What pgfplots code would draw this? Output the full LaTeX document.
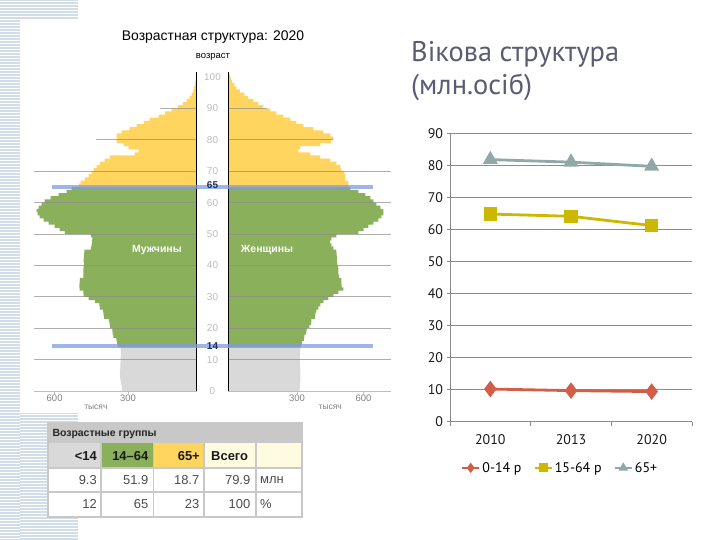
\documentclass[border=0pt]{standalone}
\usepackage{fontspec}
\setmainfont{PT Sans}
\newfontfamily\arial{Liberation Sans}
\usepackage{pgfplots}
\usepackage{pgfplotstable}
\pgfplotsset{compat=1.18}
\definecolor{c1}{HTML}{D25E47}
\definecolor{c2}{HTML}{CDB800}
\definecolor{c3}{HTML}{8FA9A8}
\definecolor{titlec}{HTML}{5B5B73}
\definecolor{pgray}{HTML}{D9D9D9}
\definecolor{pgreen}{HTML}{8AB05C}
\definecolor{pyellow}{HTML}{FFD55F}
\definecolor{pblue}{HTML}{7F9BE0}
\definecolor{stripe}{HTML}{D2DEE7}
\definecolor{lyel}{HTML}{FFFBE0}
\definecolor{hdr}{HTML}{C8C8C8}
\definecolor{gridc}{HTML}{8C8C8C}
\definecolor{lgray}{HTML}{BDBDBD}
\definecolor{navy}{HTML}{1F2F60}

\pgfplotstableread{
age m f
0 326 311
1 328 312
2 330 313
3 332 314
4 334 315
5 335 315
6 334 314
7 333 313
8 333 313
9 332 312
10 332 312
11 331 312
12 331 313
13 332 314
14 345 319
15 347 321
16 350 330
17 364 332
18 367 340
19 368 342
20 378 354
21 380 361
22 383 363
23 404 378
24 406 380
25 408 384
26 422 393
27 425 402
28 444 415
29 472 437
30 493 459
31 495 480
32 511 502
33 512 495
34 511 493
35 510 493
36 494 482
37 495 480
38 494 480
39 493 479
40 492 476
41 493 474
42 492 474
43 491 473
44 490 472
45 462 459
46 459 450
47 456 444
48 455 450
49 462 472
50 575 568
51 598 590
52 620 611
53 646 633
54 668 655
55 686 668
56 694 677
57 699 677
58 690 664
59 677 646
60 664 633
61 638 620
62 603 598
63 568 568
64 546 533
65 515 524
66 507 524
67 488 511
68 472 511
69 459 507
70 450 493
71 437 489
72 422 472
73 402 445
74 379 402
75 271 358
76 253 306
77 297 314
78 319 402
79 349 450
80 349 459
81 349 445
82 328 415
83 293 371
84 262 328
85 231 297
86 205 271
87 166 240
88 138 210
89 109 183
90 82 153
91 60 131
92 44 109
93 31 87
94 22 70
95 15 51
96 11 35
97 8 26
98 6 17
99 4 11
100 4 7
}\pyr

\pgfplotsset{
  pbar/.style={xbar, bar width=1.08, bar shift=0pt, draw=none},
  pyr/.style={scale only axis, width=162.7bp, height=317.1bp,
    xmin=0, xmax=710, ymin=0, ymax=101, axis lines=none, clip=false},
}

\begin{document}
\begin{tikzpicture}
\useasboundingbox (0,0) rectangle (720bp,-540bp);
\fill[white] (0,0) rectangle (720bp,-540bp);
% slide decoration
\fill[stripe] (0,0) rectangle (20bp,-540bp);
\fill[stripe] (0,0) rectangle (78bp,-20bp);
\fill[stripe] (0,-413bp) rectangle (78bp,-540bp);
\foreach \i in {1.5,4.5,...,540} {\draw[white, line width=0.7bp] (0,-\i bp) -- (20bp,-\i bp);}
\foreach \i in {1.5,4.5,...,20} {\draw[white, line width=0.7bp] (20bp,-\i bp) -- (78bp,-\i bp);}
\foreach \i in {414.5,417.5,...,540} {\draw[white, line width=0.7bp] (20bp,-\i bp) -- (78bp,-\i bp);}

% ---------- pyramid: males ----------
\begin{axis}[pyr, at={(196.7bp,-391bp)}, anchor=south east, x dir=reverse]
\addplot[pbar, fill=pgray, restrict y to domain=0:14] table[x=m, y expr=\thisrow{age}+0.5]{\pyr};
\addplot[pbar, fill=pgreen, restrict y to domain=14:65] table[x=m, y expr=\thisrow{age}+0.5]{\pyr};
\addplot[pbar, fill=pyellow, restrict y to domain=65:101] table[x=m, y expr=\thisrow{age}+0.5]{\pyr};
\draw[gridc, opacity=0.7, line width=0.8bp] (axis cs:0,10) -- (axis cs:710,10);
\draw[gridc, opacity=0.7, line width=0.8bp] (axis cs:0,20) -- (axis cs:710,20);
\draw[gridc, opacity=0.7, line width=0.8bp] (axis cs:0,30) -- (axis cs:710,30);
\draw[gridc, opacity=0.7, line width=0.8bp] (axis cs:0,40) -- (axis cs:710,40);
\draw[gridc, opacity=0.7, line width=0.8bp] (axis cs:0,50) -- (axis cs:710,50);
\draw[gridc, opacity=0.7, line width=0.8bp] (axis cs:0,60) -- (axis cs:710,60);
\draw[gridc, opacity=0.7, line width=0.8bp] (axis cs:0,70) -- (axis cs:710,70);
\draw[gridc, opacity=0.7, line width=0.8bp] (axis cs:0,80) -- (axis cs:440,80);
\draw[gridc, opacity=0.7, line width=0.8bp] (axis cs:0,90) -- (axis cs:160,90);
\draw[lgray, line width=0.8bp] (axis cs:0,0) -- (axis cs:710,0);
\draw[black, line width=1bp] (axis cs:0,0) -- (axis cs:0,101.5);
\draw[lgray] (axis cs:300,0) -- ++(0,-3bp) node[below, font=\arial\fontsize{9.5}{10}\selectfont, text=gray, inner sep=1bp] {300};
\draw[lgray] (axis cs:620,0) -- ++(0,-3bp) node[below, font=\arial\fontsize{9.5}{10}\selectfont, text=gray, inner sep=1bp] {600};
\node[font=\arial\fontsize{8.5}{9}\selectfont, text=gray] at (axis cs:440,-5.3) {тысяч};
\node[anchor=east, font=\arial\bfseries\fontsize{10.5}{11}\selectfont, text=white] at (axis cs:50,45) {Мужчины};
\end{axis}

% ---------- pyramid: females ----------
\begin{axis}[pyr, at={(228.3bp,-391bp)}, anchor=south west]
\addplot[pbar, fill=pgray, restrict y to domain=0:14] table[x=f, y expr=\thisrow{age}+0.5]{\pyr};
\addplot[pbar, fill=pgreen, restrict y to domain=14:65] table[x=f, y expr=\thisrow{age}+0.5]{\pyr};
\addplot[pbar, fill=pyellow, restrict y to domain=65:101] table[x=f, y expr=\thisrow{age}+0.5]{\pyr};
\draw[gridc, opacity=0.7, line width=0.8bp] (axis cs:0,10) -- (axis cs:710,10);
\draw[gridc, opacity=0.7, line width=0.8bp] (axis cs:0,20) -- (axis cs:710,20);
\draw[gridc, opacity=0.7, line width=0.8bp] (axis cs:0,30) -- (axis cs:710,30);
\draw[gridc, opacity=0.7, line width=0.8bp] (axis cs:0,40) -- (axis cs:710,40);
\draw[gridc, opacity=0.7, line width=0.8bp] (axis cs:0,50) -- (axis cs:710,50);
\draw[gridc, opacity=0.7, line width=0.8bp] (axis cs:0,60) -- (axis cs:710,60);
\draw[gridc, opacity=0.7, line width=0.8bp] (axis cs:0,70) -- (axis cs:710,70);
\draw[gridc, opacity=0.7, line width=0.8bp] (axis cs:0,80) -- (axis cs:457,80);
\draw[gridc, opacity=0.7, line width=0.8bp] (axis cs:0,90) -- (axis cs:169,90);
\draw[lgray, line width=0.8bp] (axis cs:0,0) -- (axis cs:710,0);
\draw[black, line width=1bp] (axis cs:0,0) -- (axis cs:0,101.5);
\draw[lgray] (axis cs:300,0) -- ++(0,-3bp) node[below, font=\arial\fontsize{9.5}{10}\selectfont, text=gray, inner sep=1bp] {300};
\draw[lgray] (axis cs:590,0) -- ++(0,-3bp) node[below, font=\arial\fontsize{9.5}{10}\selectfont, text=gray, inner sep=1bp] {600};
\node[font=\arial\fontsize{8.5}{9}\selectfont, text=gray] at (axis cs:445,-5.3) {тысяч};
\node[anchor=west, font=\arial\bfseries\fontsize{10.5}{11}\selectfont, text=white] at (axis cs:40,45) {Женщины};
\end{axis}

% blue marker lines
\draw[pblue, opacity=0.75, line width=4bp] (52bp,-187bp) -- (373bp,-187bp);
\draw[pblue, opacity=0.75, line width=4bp] (52bp,-345.5bp) -- (373bp,-345.5bp);
% age labels
\foreach \a in {0,10,...,100} {\node[font=\arial\fontsize{10}{11}\selectfont, text=lgray] at (212.5bp,{-(391-3.14*\a)*1bp}) {\a};}
\node[font=\arial\bfseries\fontsize{10}{11}\selectfont, text=navy, inner sep=0.5bp] at (212.5bp,-185bp) {65};
\node[font=\arial\bfseries\fontsize{10}{11}\selectfont, text=navy, inner sep=0.5bp] at (212.5bp,-346bp) {14};
% pyramid titles
\node[font=\arial\fontsize{14}{16}\selectfont] at (213bp,-37bp) {Возрастная структура: 2020};
\node[font=\arial\fontsize{9.5}{10}\selectfont] at (213bp,-57bp) {возраст};

% ---------- table ----------
\fill[hdr] (48bp,-423bp) rectangle (302bp,-443bp);
\fill[pgray] (48bp,-443bp) rectangle (100.8bp,-468bp);
\fill[pgreen] (100.8bp,-443bp) rectangle (153.3bp,-468bp);
\fill[pyellow] (153.3bp,-443bp) rectangle (204bp,-468bp);
\fill[lyel] (204bp,-443bp) rectangle (302bp,-468bp);
\fill[white] (48bp,-468bp) rectangle (302bp,-517bp);
\draw[hdr, line width=1.6bp] (48bp,-423bp) rectangle (302bp,-517bp);
\draw[hdr, line width=1.6bp] (48bp,-468bp) -- (302bp,-468bp);
\draw[hdr, line width=1.6bp] (48bp,-492bp) -- (302bp,-492bp);
\foreach \x in {100.8,153.3,204,255.8} {\draw[hdr, line width=1.6bp] (\x bp,-443bp) -- (\x bp,-517bp);}
\node[anchor=west, font=\arial\bfseries\fontsize{10.5}{11}\selectfont, text=black!85] at (49bp,-433.5bp) {Возрастные группы};
\begin{scope}[every node/.style={font=\arial\bfseries\fontsize{13}{14}\selectfont, text=black!90, inner sep=0pt}]
\node[anchor=east] at (97bp,-456bp) {<14};
\node[anchor=east] at (148.5bp,-456bp) {14–64};
\node[anchor=east] at (200bp,-456bp) {65+};
\node[anchor=west] at (211bp,-456bp) {Всего};
\end{scope}
\begin{scope}[every node/.style={font=\arial\fontsize{13}{14}\selectfont, text=black!70, inner sep=0pt}]
\node[anchor=east] at (97bp,-480bp) {9.3};
\node[anchor=east] at (148.5bp,-480bp) {51.9};
\node[anchor=east] at (199.5bp,-480bp) {18.7};
\node[anchor=east] at (250.5bp,-480bp) {79.9};
\node[anchor=west] at (260bp,-480bp) {млн};
\node[anchor=east] at (97bp,-504bp) {12};
\node[anchor=east] at (148.5bp,-504bp) {65};
\node[anchor=east] at (199.5bp,-504bp) {23};
\node[anchor=east] at (250.5bp,-504bp) {100};
\node[anchor=west] at (260bp,-504bp) {\%};
\end{scope}

% ---------- right title ----------
\node[anchor=base west, inner sep=0pt, text=titlec, font=\fontsize{28.5}{30}\selectfont] at (411bp,-61.7bp) {Вікова структура};
\node[anchor=base west, inner sep=0pt, text=titlec, font=\fontsize{28.5}{30}\selectfont] at (411bp,-94bp) {(млн.осіб)};

% ---------- line chart ----------
\begin{axis}[
  at={(450bp,-421.7bp)}, anchor=south west,
  scale only axis, width=242bp, height=288.4bp,
  xmin=-0.5, xmax=2.5, ymin=0, ymax=90,
  xtick={0,1,2}, xticklabels={2010,2013,2020},
  major x tick style={draw=none},
  minor xtick={-0.5,0.5,1.5,2.5},
  minor tick length=4bp,
  ytick={0,10,...,90}, major tick length=3.5bp,
  tick align=outside,
  ymajorgrids, grid style={gridc, line width=0.7bp},
  axis x line*=bottom, axis y line*=left,
  axis line style={-, gridc, line width=0.8bp},
  tick style={gridc, line width=0.8bp},
  /pgf/number format/assume math mode=true,
  ticklabel style={font=\fontsize{14}{16}\selectfont, text=black!90},
  xticklabel style={yshift=-6bp},
  legend style={at={(0.455,-0.16)}, anchor=center, draw=none, fill=none,
    font=\fontsize{14}{16}\selectfont, /tikz/every even column/.append style={column sep=10bp}},
  legend image post style={mark size=3.2bp, line width=2.4bp},
  legend columns=3,
  clip=false,
]
\addplot[c1, line width=2.8bp, mark=diamond*, mark size=6bp] coordinates {(0,10.2) (1,9.7) (2,9.4)};
\addlegendentry{0-14 р}
\addplot[c2, line width=2.8bp, mark=square*, mark size=5.2bp] coordinates {(0,64.8) (1,64.1) (2,61.2)};
\addlegendentry{15-64 р}
\addplot[c3, line width=2.8bp, mark=triangle*, mark size=6bp] coordinates {(0,81.8) (1,81.0) (2,79.7)};
\addlegendentry{65+}
\end{axis}
\end{tikzpicture}
\end{document}
